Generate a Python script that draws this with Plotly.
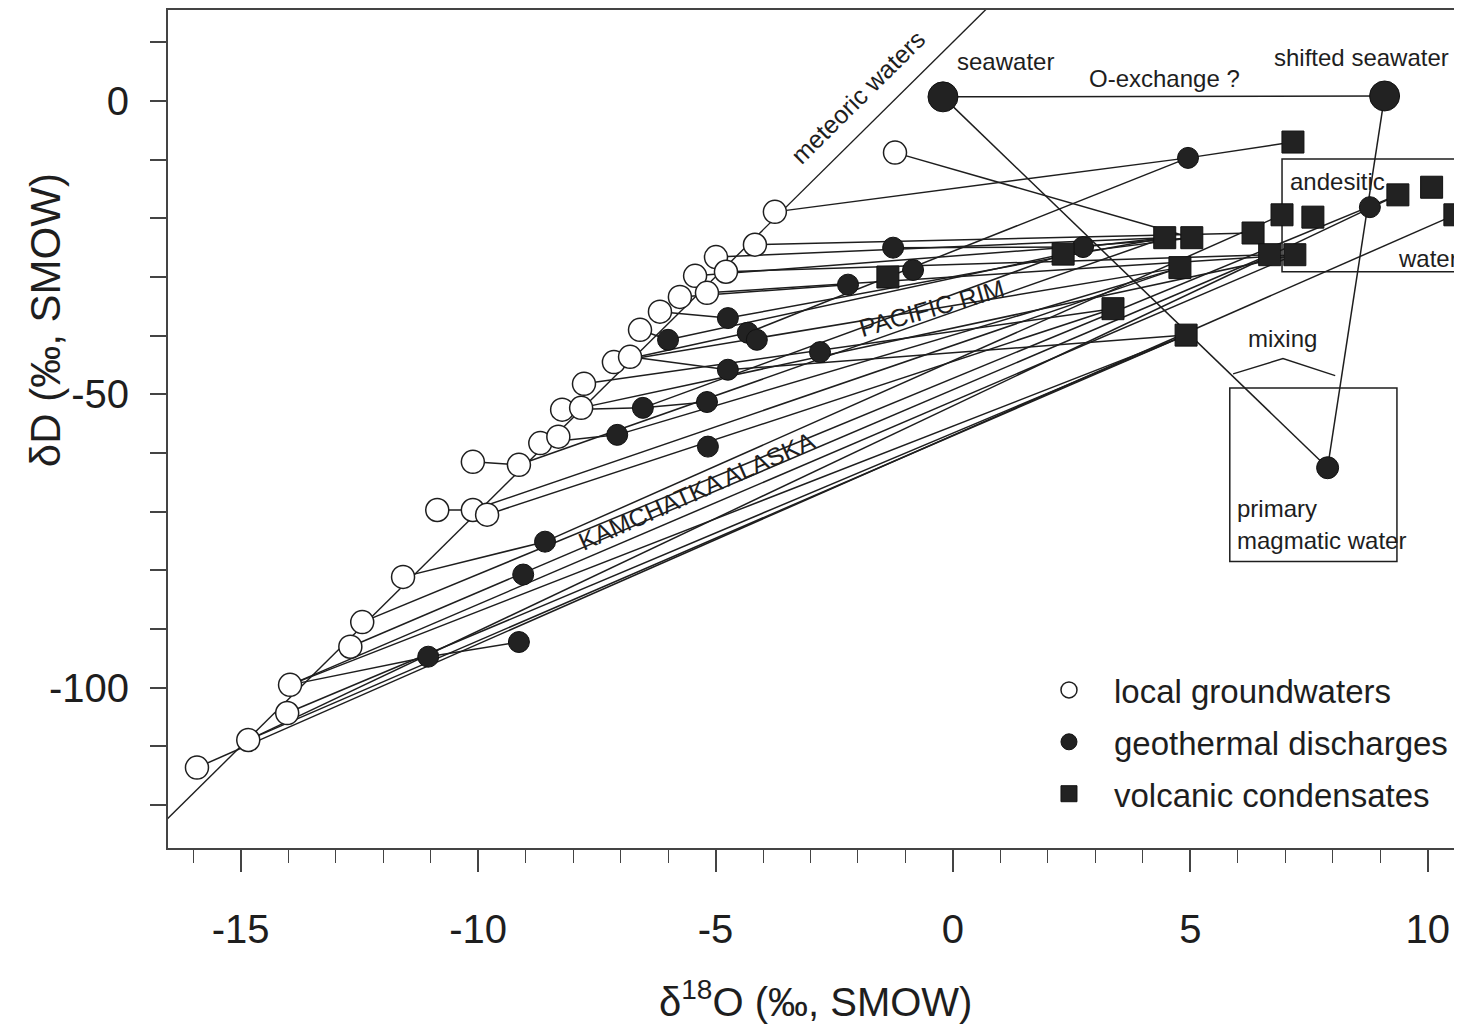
import plotly.graph_objects as go

# ---------------- data ----------------
# local groundwaters (open circles)
gw_x = [-15.92, -14.84, -14.02, -13.96, -12.69, -12.44, -11.58, -10.86, -10.11, -9.81,
        -10.11, -9.14, -8.69, -8.31, -8.23, -7.83, -7.77, -7.14, -6.80, -6.59,
        -6.17, -5.75, -5.43, -5.18, -4.99, -4.78, -4.17, -3.75, -1.22]
gw_y = [-113.6, -108.9, -104.3, -99.5, -93.0, -88.8, -81.1, -69.7, -69.7, -70.5,
        -61.5, -62.0, -58.3, -57.2, -52.6, -52.3, -48.2, -44.5, -43.6, -39.0,
        -35.9, -33.4, -29.8, -32.7, -26.6, -29.1, -24.5, -18.9, -8.8]

# geothermal discharges (filled circles)
gd_x = [-11.05, -9.14, -9.05, -8.59, -7.07, -6.53, -5.18, -5.16, -6.00, -4.74,
        -4.74, -4.32, -4.13, -2.80, -2.21, -1.26, -0.84, 2.74, 4.95, 8.78]
gd_y = [-94.7, -92.2, -80.7, -75.1, -56.9, -52.3, -51.3, -58.9, -40.7, -45.8,
        -37.0, -39.5, -40.7, -42.8, -31.3, -25.0, -28.8, -24.9, -9.7, -18.1]

# volcanic condensates (filled squares)
vc_x = [-1.37, 2.32, 3.37, 4.46, 5.03, 4.78, 4.91, 6.32, 6.93, 7.58,
        6.67, 7.20, 7.16, 9.37, 10.08, 10.57]
vc_y = [-30.0, -26.1, -35.4, -23.3, -23.3, -28.4, -39.9, -22.5, -19.4, -19.8,
        -26.2, -26.2, -7.0, -16.0, -14.7, -19.4]

# end-member waters: seawater, shifted seawater, primary magmatic water
em_name = ["seawater", "shifted seawater", "primary magmatic water"]
em_x = [-0.21, 9.09, 7.89]
em_y = [0.7, 0.85, -62.5]

# meteoric water line (end points)
mwl_x = [-16.6, 0.72]
mwl_y = [-122.8, 15.8]

# mixing lines, as (start point, end point) pairs
seg_x0 = [-15.92, -14.84, -14.02, -14.84, -13.96, -13.96, -11.05, -12.69, -12.44, -11.58,
          -8.59, -13.96, -10.86, -9.81, -10.11, -10.11, -9.14, -8.69, -7.07, -8.23,
          -6.53, -6.53, -7.83, -7.77, -6.80, -4.74, -7.14, -6.59, -6.00, -6.17,
          -4.74, -5.75, -4.32, -5.43, -5.18, -4.99, -4.78, -4.17, -3.75, 4.95,
          -1.22, -1.26, 2.74, 2.32, -0.21, -0.21, 9.09, -7.14]
seg_y0 = [-113.6, -108.9, -104.3, -108.9, -99.5, -99.5, -94.7, -93.0, -88.8, -81.1,
          -75.1, -99.5, -69.7, -70.5, -69.7, -61.5, -62.0, -58.3, -56.9, -52.6,
          -52.3, -52.3, -52.3, -48.2, -43.6, -45.8, -44.5, -39.0, -40.7, -35.9,
          -37.0, -33.4, -39.5, -29.8, -32.7, -26.6, -29.1, -24.5, -18.9, -9.7,
          -8.8, -25.0, -24.9, -26.1, 0.7, 0.7, 0.85, -44.5]
seg_x1 = [10.57, 9.37, 4.91, 4.91, 7.20, -11.05, -9.14, 6.67, 9.37, -8.59,
          6.93, 4.91, -10.11, 3.37, 4.78, -9.14, 4.46, -7.07, 4.78, -6.53,
          -5.18, 2.32, 7.20, 3.37, -4.74, 4.91, 4.78, -6.00, 2.32, -4.74,
          4.46, -2.21, 4.95, 5.03, 7.20, 4.46, 6.67, 6.32, 4.95, 7.16,
          5.03, 2.74, 4.46, 5.03, 9.09, 7.89, 7.89, -4.32]
seg_y1 = [-19.4, -16.0, -39.9, -39.9, -26.2, -94.7, -92.2, -26.2, -16.0, -75.1,
          -19.4, -39.9, -69.7, -35.4, -28.4, -62.0, -23.3, -56.9, -28.4, -52.3,
          -51.3, -26.1, -26.2, -35.4, -45.8, -39.9, -28.4, -40.7, -26.1, -37.0,
          -23.3, -31.3, -9.7, -23.3, -26.2, -23.3, -26.2, -22.5, -9.7, -7.0,
          -23.3, -24.9, -23.3, -23.3, 0.85, -62.5, -62.5, -39.5]

# boxes (andesitic water, primary magmatic water) and tick labels
andesitic_box = [6.93, 13.0, -29.1, -9.9]
magmatic_box = [5.83, 9.35, -78.5, -48.9]
x_ticks = [-15, -10, -5, 0, 5, 10]
x_ticktext = ["-15", "-10", "-5", "0", "5", "10"]
y_ticks = [-100, -50, 0]
y_ticktext = ["-100", "-50", "0"]

# ---------------- figure ----------------
FONT = "Liberation Sans, Arial, Helvetica, sans-serif"
INK = "#1e1e1e"

lx, ly = [], []
for a, b, c, d in zip(seg_x0, seg_y0, seg_x1, seg_y1):
    lx += [a, c, None]
    ly += [b, d, None]

fig = go.Figure()
fig.add_trace(go.Scatter(x=mwl_x, y=mwl_y, mode="lines",
                         line=dict(color=INK, width=1.4), showlegend=False, hoverinfo="skip"))
fig.add_trace(go.Scatter(x=lx, y=ly, mode="lines",
                         line=dict(color=INK, width=1.5), showlegend=False, hoverinfo="skip"))
fig.add_trace(go.Scatter(x=gw_x, y=gw_y, mode="markers", name="local groundwaters",
                         legendgroup="a",
                         marker=dict(symbol="circle", size=23, color="white", opacity=1,
                                     line=dict(color=INK, width=1.5))))
fig.add_trace(go.Scatter(x=gd_x, y=gd_y, mode="markers", name="geothermal discharges",
                         legendgroup="b",
                         marker=dict(symbol="circle", size=21, color="#222222", opacity=1,
                                     line=dict(color="#111111", width=1))))
fig.add_trace(go.Scatter(x=vc_x, y=vc_y, mode="markers", name="volcanic condensates",
                         legendgroup="c",
                         marker=dict(symbol="square", size=22, color="#222222", opacity=1,
                                     line=dict(color="#111111", width=1))))
fig.add_trace(go.Scatter(x=em_x, y=em_y, mode="markers", text=em_name, showlegend=False,
                         marker=dict(symbol="circle", size=[30, 30, 22], color="#222222",
                                     opacity=1, line=dict(color="#111111", width=1))))

shapes = [
    dict(type="rect", xref="x", yref="y", x0=andesitic_box[0], x1=andesitic_box[1],
         y0=andesitic_box[2], y1=andesitic_box[3], line=dict(color=INK, width=1.5), layer="below"),
    dict(type="rect", xref="x", yref="y", x0=magmatic_box[0], x1=magmatic_box[1],
         y0=magmatic_box[2], y1=magmatic_box[3], line=dict(color=INK, width=1.5), layer="below"),
    dict(type="path", xref="x", yref="y", path="M 5.9,-46.5 L 6.95,-43.9 L 8.05,-46.8",
         line=dict(color=INK, width=1.4)),
]

def ann(text, x, y, size=24, angle=0, xanchor="center"):
    return dict(text=text, x=x, y=y, xref="x", yref="y", showarrow=False,
                textangle=angle, xanchor=xanchor, font=dict(family=FONT, size=size, color=INK))

annotations = [
    ann("seawater", 1.1, 6.8),
    ann("O-exchange ?", 4.45, 3.8),
    ann("shifted seawater", 8.6, 7.4),
    ann("meteoric waters", -2.0, 0.6, size=25, angle=-44.7),
    ann("andesitic", 8.1, -13.8),
    ann("water", 10.68, -26.8, xanchor="right"),
    ann("mixing", 6.95, -40.5),
    ann("primary", 5.95, -69.4, xanchor="left"),
    ann("magmatic water", 5.95, -74.9, xanchor="left"),
    ann("PACIFIC RIM", -0.45, -35.3, size=25, angle=-16),
    ann("KAMCHATKA ALASKA", -5.4, -66.5, size=25, angle=-24),
    dict(text="δ<sup>18</sup>O (‰, SMOW)", xref="paper", yref="paper", x=0.5, y=-0.18,
         xanchor="center", yanchor="middle", showarrow=False,
         font=dict(family=FONT, size=40, color=INK)),
    dict(text="δD (‰, SMOW)", xref="paper", yref="paper", x=-0.095, y=0.63,
         xanchor="center", yanchor="middle", showarrow=False, textangle=-90,
         font=dict(family=FONT, size=42, color=INK)),
]

fig.update_layout(
    width=1454, height=1026,
    margin=dict(l=160, r=0, t=2, b=186),
    paper_bgcolor="white", plot_bgcolor="white",
    font=dict(family=FONT, color=INK),
    shapes=shapes, annotations=annotations,
    legend=dict(x=0.6615, y=0.222, xanchor="left", yanchor="top",
                font=dict(family=FONT, size=33, color=INK), itemwidth=80,
                bgcolor="rgba(0,0,0,0)", itemsizing="trace", tracegroupgap=6),
    xaxis=dict(range=[-16.53, 10.72], showgrid=False, zeroline=False,
               showline=True, linecolor="#444", linewidth=2, mirror=True,
               ticks="outside", tickvals=x_ticks, ticktext=x_ticktext,
               ticklen=22, tickwidth=1.5, tickcolor="#444",
               minor=dict(ticks="outside", dtick=1, tick0=0, ticklen=13,
                          tickwidth=1.3, tickcolor="#444"),
               tickfont=dict(family=FONT, size=40, color=INK), ticklabelstandoff=23),
    yaxis=dict(range=[-127.3, 15.5], showgrid=False, zeroline=False,
               showline=True, linecolor="#444", linewidth=2,
               ticks="outside", tickvals=y_ticks, ticktext=y_ticktext,
               ticklen=16, tickwidth=1.5, tickcolor="#444",
               minor=dict(ticks="outside", dtick=10, tick0=0, ticklen=16,
                          tickwidth=1.5, tickcolor="#444"),
               tickfont=dict(family=FONT, size=40, color=INK), ticklabelstandoff=13),
)

fig.write_html("out.html")
